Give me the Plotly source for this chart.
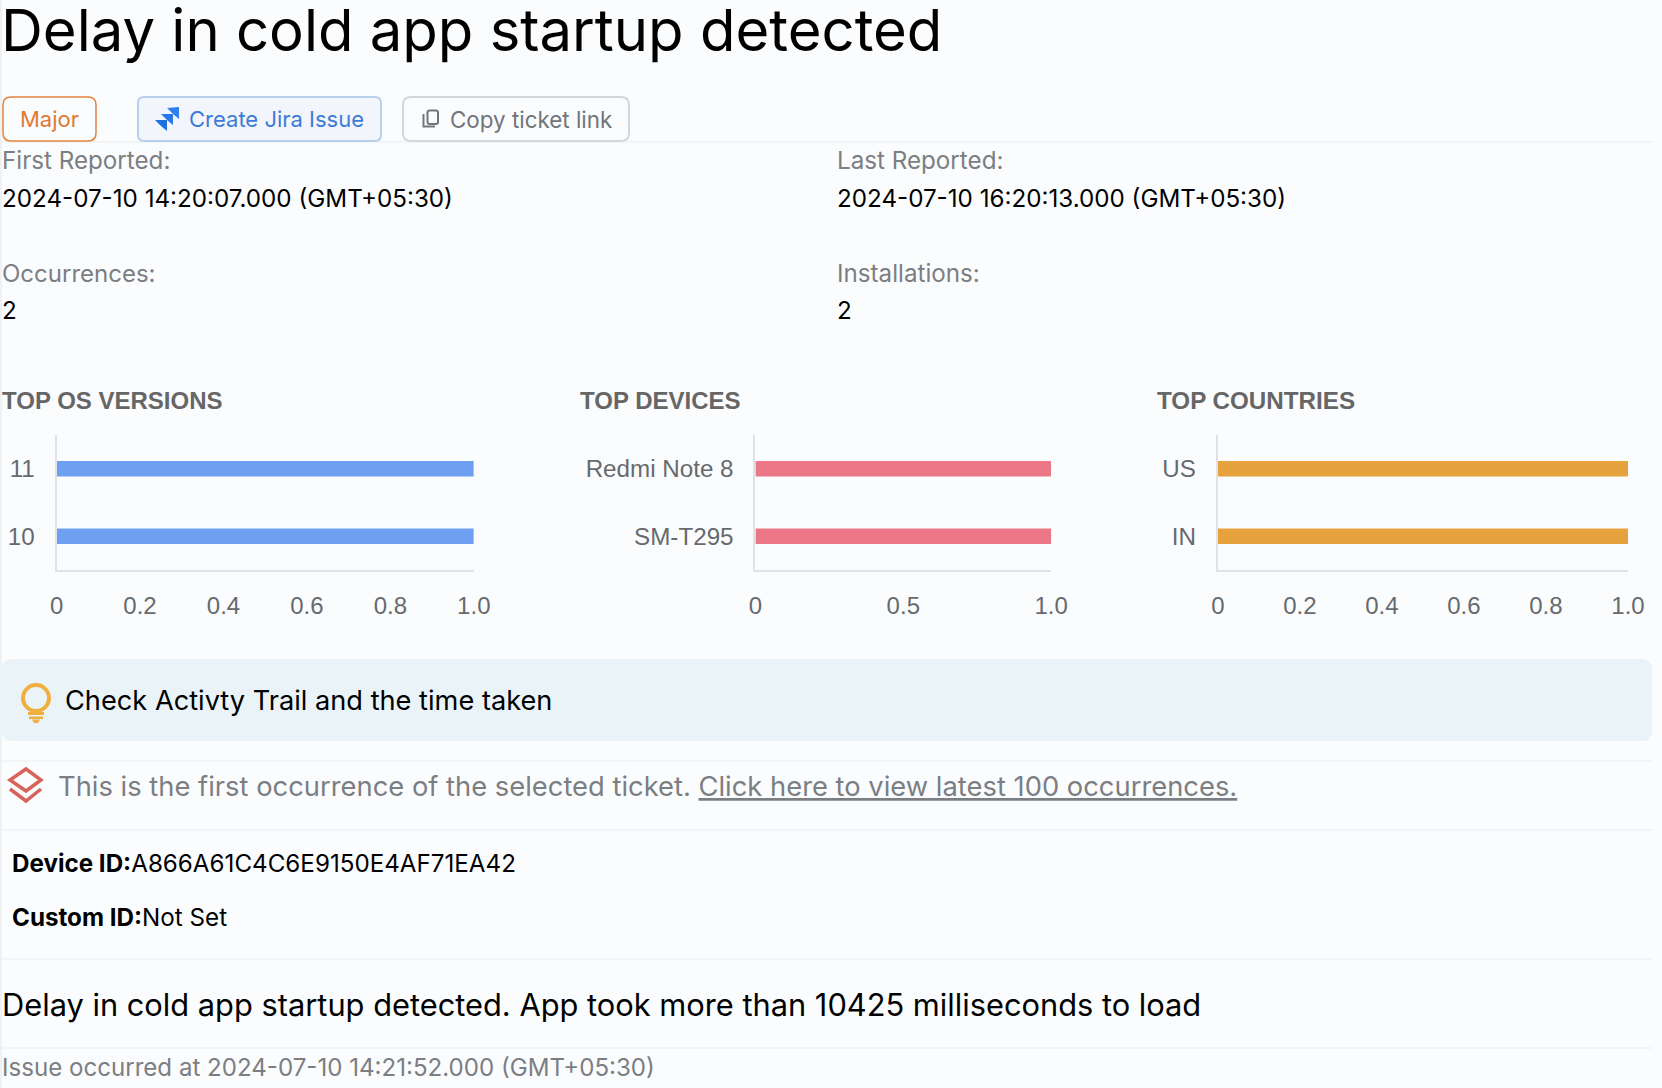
import plotly.graph_objects as go

W, H = 1662, 1088
BG = "#fbfcfe"
TICK = "#666a6e"
os_versions = ["10", "11"]
os_counts = [1, 1]
devices = ["SM-T295", "Redmi Note 8"]
device_counts = [1, 1]
countries = ["IN", "US"]
country_counts = [1, 1]
ticks_fifth = [0, 0.2, 0.4, 0.6, 0.8, 1.0]
ticks_fifth_text = ["0", "0.2", "0.4", "0.6", "0.8", "1.0"]
ticks_half = [0, 0.5, 1.0]
ticks_half_text = ["0", "0.5", "1.0"]


def X(p):
    return p / W


def Y(p):
    return 1 - p / H


def path(points, close=False):
    s = "M" + " L".join(f"{X(a):.5f},{Y(b):.5f}" for a, b in points)
    return s + (" Z" if close else "")


def rrect(x0, y0, x1, y1, r):
    c = lambda a, b: f"{X(a):.5f},{Y(b):.5f}"
    return (f"M{c(x0+r,y0)} L{c(x1-r,y0)} Q{c(x1,y0)} {c(x1,y0+r)} L{c(x1,y1-r)} Q{c(x1,y1)} {c(x1-r,y1)} "
            f"L{c(x0+r,y1)} Q{c(x0,y1)} {c(x0,y1-r)} L{c(x0,y0+r)} Q{c(x0,y0)} {c(x0+r,y0)} Z")


shapes = []
annotations = []


def shape_path(d, fill="rgba(0,0,0,0)", line=None, width=0):
    shapes.append(dict(type="path", xref="paper", yref="paper", path=d, fillcolor=fill,
                       line=dict(color=line or "rgba(0,0,0,0)", width=width), layer="below"))


def rect(x0, y0, x1, y1, color):
    shapes.append(dict(type="rect", xref="paper", yref="paper", x0=X(x0), x1=X(x1), y0=Y(y0), y1=Y(y1),
                       fillcolor=color, line=dict(width=0), layer="below"))


def text(x, y, s, size, color="#000000", family="Inter"):
    annotations.append(dict(x=X(x), y=Y(y), xref="paper", yref="paper", text=s, showarrow=False,
                            xanchor="left", yanchor="middle", borderpad=0, borderwidth=0,
                            font=dict(size=size, color=color, family=family)))


# page furniture
rect(0, 0, 2, H, "#f0f1f3")
for ly in [142, 761, 830, 959, 1048]:
    rect(2, ly - 0.5, 1652, ly + 0.5, "#e9ebee")
shape_path(rrect(2, 659, 1652, 741, 10), fill="#e9f3f8")

# buttons
shape_path(rrect(3, 97, 96, 141, 8), fill=BG, line="#e0833f", width=1.5)
shape_path(rrect(138, 97, 381, 141, 6), fill="#f2f6fc", line="#b8cfee", width=2)
shape_path(rrect(403, 97, 629, 141, 8), fill=BG, line="#d3d6da", width=2)

# jira icon
shape_path(path([(167, 108), (179, 107), (179, 119), (173, 114)], True), fill="#2f80ed")
shape_path(path([(161, 114), (173, 114), (173, 125), (167, 120)], True), fill="#2a76e6")
shape_path(path([(155, 120), (167, 120), (167, 131), (161, 126)], True), fill="#1f6fe0")
# copy icon
shape_path(rrect(427.5, 110.5, 438, 124, 2), line="#70757a", width=2)
shape_path(path([(423.5, 114), (423.5, 126.5), (435, 126.5)]), line="#70757a", width=2)

# bulb
BULB = "#efb03f"
shapes.append(dict(type="circle", xref="paper", yref="paper", x0=X(23), x1=X(49), y0=Y(685), y1=Y(711),
                   line=dict(color=BULB, width=4), fillcolor="rgba(0,0,0,0)", layer="below"))
rect(28, 712, 44, 715, BULB)
rect(29, 716.5, 43, 719, BULB)
shape_path(path([(32, 719.5), (40, 719.5), (38, 723), (34, 723)], True), fill=BULB)

# layers icon
RED = "#d8635a"
shape_path(path([(26, 769), (41, 780), (26, 791), (10, 780)], True), line=RED, width=3.5)
shape_path(path([(10, 789), (26, 801), (41, 789)]), line=RED, width=3.5)

# texts
text(1, 30, "Delay in cold app startup detected", 58)
text(20, 119, "Major", 22, "#dd7a35")
text(189, 119, "Create Jira Issue", 22, "#3c7bd6")
text(450, 119, "Copy ticket link", 22.4, "#70757a")
GREY = "#7b7e82"
text(2, 161, "First Reported:", 24.2, GREY)
text(2, 198, "2024-07-10 14:20:07.000 (GMT+05:30)", 24.2)
text(837, 161, "Last Reported:", 24.2, GREY)
text(837, 198, "2024-07-10 16:20:13.000 (GMT+05:30)", 24.2)
text(2, 273.5, "Occurrences:", 24, GREY)
text(2, 310, "2", 24.2)
text(837, 273.5, "Installations:", 24.2, GREY)
text(837, 310, "2", 24.2)
HEAD = "#666666"
text(2, 400, "<b>TOP OS VERSIONS</b>", 24, HEAD, "Liberation Sans")
text(580, 400, "<b>TOP DEVICES</b>", 24, HEAD, "Liberation Sans")
text(1157, 400, "<b>TOP COUNTRIES</b>", 24.2, HEAD, "Liberation Sans")
text(64.5, 700, "Check Activty Trail and the time taken", 27.2)
text(58, 786, "This is the first occurrence of the selected ticket. <u>Click here to view latest 100 occurrences.</u>", 27.35, GREY)
text(12, 863, "<b>Device ID:</b>A866A61C4C6E9150E4AF71EA42", 24.2)
text(12, 917, "<b>Custom ID:</b>Not Set", 24.2)
text(2, 1004, "Delay in cold app startup detected. App took more than 10425 milliseconds to load", 30.8)
text(2, 1067, "Issue occurred at 2024-07-10 14:21:52.000 (GMT+05:30)", 24.1, GREY)

fig = go.Figure()
panels = [
    ("", os_versions, os_counts, "#6f9ff0", (56.6, 473.8), ticks_fifth, ticks_fifth_text),
    ("2", devices, device_counts, "#ec7887", (755.4, 1051.2), ticks_half, ticks_half_text),
    ("3", countries, country_counts, "#e6a23c", (1217.8, 1628), ticks_fifth, ticks_fifth_text),
]
layout = {}
for suffix, cats, vals, color, (a, b), tv, tt in panels:
    fig.add_trace(go.Bar(x=vals, y=cats, orientation="h", marker=dict(color=color, line=dict(width=0)),
                         width=0.227, xaxis="x" + suffix, yaxis="y" + suffix, hoverinfo="skip"))
    layout["xaxis" + suffix] = dict(domain=[X(a), X(b)], range=[0, 1], anchor="y" + suffix, tickvals=tv, ticktext=tt,
                                    showgrid=False, zeroline=False, showline=True, linecolor="#e0e2e5", linewidth=2,
                                    ticks="outside", ticklen=13, tickcolor="rgba(0,0,0,0)",
                                    tickfont=dict(size=24, color=TICK, family="Liberation Sans"))
    layout["yaxis" + suffix] = dict(domain=[Y(570), Y(435)], type="category", anchor="x" + suffix,
                                    showgrid=False, zeroline=False, showline=True, linecolor="#e0e2e5", linewidth=2,
                                    ticks="outside", ticklen=15, tickcolor="rgba(0,0,0,0)",
                                    tickfont=dict(size=24.2, color=TICK, family="Liberation Sans"))

fig.update_layout(width=W, height=H, margin=dict(l=0, r=0, t=0, b=0, autoexpand=False), paper_bgcolor=BG, plot_bgcolor=BG,
                  showlegend=False, shapes=shapes, annotations=annotations, **layout)
fig.write_html("out.html", config=dict(displayModeBar=False),
               post_script="document.body.style.margin='0';document.body.style.overflow='hidden';")
